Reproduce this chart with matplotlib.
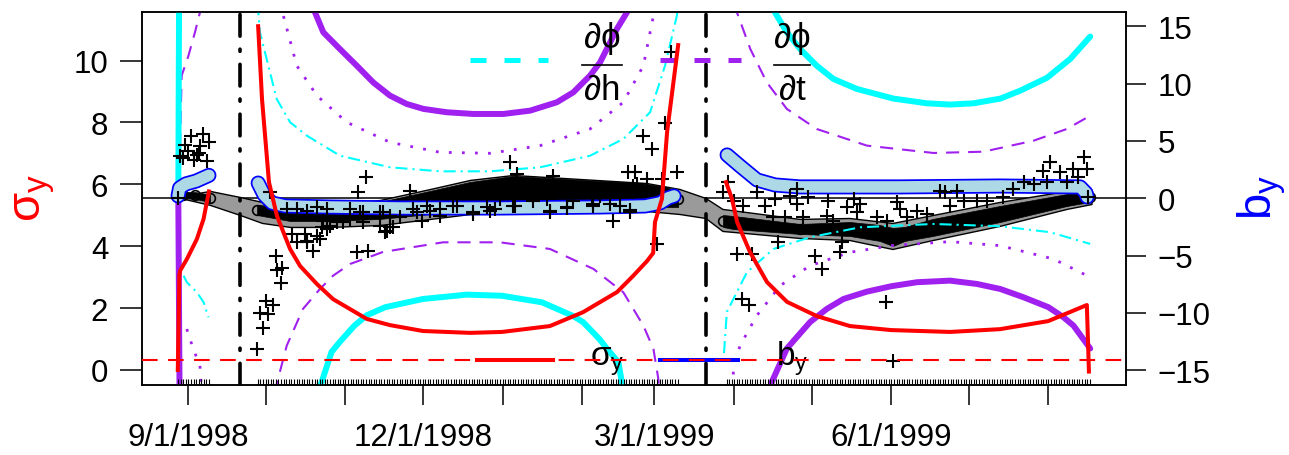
import numpy as np
import pandas as pd
import matplotlib
matplotlib.use("Agg")
import matplotlib.pyplot as plt
import matplotlib.dates as mdates
from matplotlib.lines import Line2D

plt.rcParams['font.family'] = ['Liberation Sans', 'DejaVu Sans']
plt.rcParams['mathtext.fontset'] = 'custom'
plt.rcParams['mathtext.rm'] = 'Liberation Sans'
plt.rcParams['mathtext.it'] = 'Liberation Sans'
plt.rcParams['mathtext.default'] = 'regular'

# ---------------------- data: x values are days since 1998-09-01 ----------------------
start_date = "1998-09-01"

# sigma_y (left axis), three observation periods
sig1_d = [-4.1, -3.5, -3.2, -0.6, 3.3, 5.9, 8.0]
sig1_v = [0.0, 3.05, 3.21, 3.58, 4.23, 4.88, 5.77]
sig2_d = [27.1, 28.6, 31.3, 34.4, 39.5, 43.4, 49.9, 56.2, 69.3, 78.3, 91.1, 109.4, 121.8,
          140.4, 153.3, 166.5, 172.7, 178.1, 180.5, 181.2, 183.9, 185.9, 190.2]
sig2_v = [11.11, 8.76, 6.07, 4.98, 3.91, 3.36, 2.78, 2.29, 1.65, 1.45, 1.26, 1.20, 1.23,
          1.42, 1.87, 2.52, 3.04, 3.52, 3.78, 4.78, 5.53, 7.69, 10.5]
sig3_d = [208.8, 211.1, 213.1, 218.1, 224.7, 232.5, 244.1, 256.9, 272.9, 295.8, 315.2,
          333.9, 348.9, 349.7]
sig3_v = [6.07, 5.53, 4.78, 3.81, 2.84, 2.20, 1.74, 1.42, 1.29, 1.23, 1.32, 1.58, 2.10, -0.05]
sig_ref = 0.32

# d(phi)/dh, thick cyan (right axis)
dh1_d = [-3.6, -3.9]
dh1_v = [17.5, 0.0]
dh2_d = [50.5, 51.8, 55.6, 58.9, 64.5, 69.3, 76.4, 91.1, 108.2, 121.8, 137.3, 149.2,
         153.3, 159.6, 162.5, 167.0, 168.3, 169.0]
dh2_v = [-16.8, -16.0, -13.4, -12.5, -11.1, -10.2, -9.5, -8.78, -8.4, -8.5, -9.07, -10.24,
         -10.8, -12.27, -13.1, -14.3, -16.0, -16.8]
dh3_d = [226.5, 227.8, 232.4, 237.6, 244.0, 250.5, 259.6, 273.8, 286.8, 295.8, 304.9,
         315.3, 323.0, 333.4, 342.4, 350.2]
dh3_v = [17.0, 16.2, 14.47, 13.0, 11.56, 10.4, 9.53, 8.69, 8.28, 8.17, 8.28, 8.69, 9.38,
         10.5, 12.14, 14.1]

# d(phi)/dt, thick purple (right axis)
dt1_d = [-3.9, -3.4]
dt1_v = [0.0, -17.5]
dt2_d = [48.0, 49.2, 52.4, 58.9, 65.4, 71.8, 78.3, 84.8, 91.3, 100.3, 110.7, 122.3, 132.7,
         143.1, 149.5, 156.0, 159.9, 163.8, 166.4, 170.3, 171.0]
dt2_v = [16.9, 16.2, 14.47, 13.0, 11.56, 10.1, 8.95, 8.22, 7.79, 7.50, 7.35, 7.35, 7.64,
         8.37, 9.24, 10.7, 11.86, 13.6, 14.76, 16.2, 16.9]
dt3_d = [225.5, 226.6, 232.4, 241.4, 247.9, 254.4, 263.5, 272.9, 282.9, 295.8, 306.2,
         315.3, 324.3, 334.0, 339.8, 343.7, 350.2]
dt3_v = [-17.0, -16.0, -13.1, -10.8, -9.65, -8.78, -8.14, -7.67, -7.32, -7.18, -7.47,
         -7.91, -8.63, -9.5, -10.37, -11.1, -13.1]

# thin purple dashed curves
pdash1_d = [4.9, 4.5, 2.6, 0.0, -2.6, -3.2, -3.3]
pdash1_v = [17.0, 16.2, 14.5, 12.4, 10.7, 5.0, 0.0]
pdash2_d = [33.6, 34.3, 38.2, 44.5, 51.1, 56.2, 62.8, 75.6, 98.9, 121.0, 140.4, 157.3,
            168.9, 176.7, 180.6, 182.5, 183.0]
pdash2_v = [-17.0, -16.2, -12.85, -9.65, -7.91, -6.75, -5.73, -4.68, -3.84, -3.84, -4.42,
            -6.16, -8.20, -11.11, -13.14, -15.75, -17.0]
pdash3_d = [212.5, 213.0, 218.2, 224.6, 232.4, 244.0, 263.5, 289.3, 308.7, 328.2, 341.1, 350.2]
pdash3_v = [17.0, 16.22, 13.02, 10.11, 7.79, 6.04, 4.59, 3.95, 4.06, 5.02, 6.04, 7.20]

# thin cyan dash-dot curves
cdd1_d = [-3.4, -3.2, -0.6, 3.3, 5.9, 7.8]
cdd1_v = [-0.5, -6.13, -7.32, -8.19, -9.06, -10.38]
cdd2_d = [26.8, 27.2, 27.8, 34.3, 39.5, 46.0, 58.9, 78.3, 97.7, 117.1, 136.6, 156.0,
          168.9, 179.3, 185.1, 189.7, 190.2]
cdd2_v = [17.0, 16.22, 14.47, 8.66, 6.63, 5.46, 3.71, 2.70, 2.35, 2.35, 2.70, 3.71,
          5.17, 7.50, 11.56, 15.92, 17.0]
cdd3_d = [208.0, 209.1, 216.9, 227.2, 241.4, 260.9, 289.3, 315.2, 334.6, 350.2]
cdd3_v = [-13.5, -9.91, -6.45, -4.42, -3.40, -2.53, -2.24, -2.44, -2.96, -3.98]

# thin purple dotted curves
pdot1_d = [-0.6, 1.9, 4.5, 5.2]
pdot1_v = [-11.4, -13.14, -14.6, -17.0]
pdot2_d = [35.9, 36.9, 42.1, 49.9, 61.5, 78.3, 97.7, 117.1, 136.6, 156.0, 168.9, 176.7,
           180.6, 181.0]
pdot2_v = [17.0, 15.92, 11.56, 8.95, 6.63, 4.88, 4.01, 3.92, 4.59, 6.04, 8.37, 11.56,
           15.92, 17.0]
pdot3_d = [211.3, 211.7, 214.2, 220.7, 229.8, 241.4, 256.9, 272.9, 295.8, 315.2, 335.9, 349.5]
pdot3_v = [-16.5, -14.88, -12.85, -10.24, -7.62, -5.88, -4.71, -4.13, -3.78, -4.13, -5.29, -6.80]

# grey uncertainty band (right axis)
band_d = [-3.2, 8.4, 20.1, 28.6, 39.5, 55.0, 74.4, 93.9, 109.4, 126.1, 152.1, 177.9,
          190.7, 200.8, 207.4, 237.3, 256.7, 273.4, 289.0, 315.0, 341.0, 350.7]
band_hi = [0.20, 0.64, 0.11, -0.32, -0.58, -0.50, -0.15, 0.81, 1.60, 2.03, 1.68, 1.33,
           0.81, 0.03, -0.93, -1.80, -1.72, -2.15, -1.46, -0.32, 0.64, 0.55]
band_lo = [0.03, -0.58, -1.46, -2.15, -2.50, -2.50, -2.33, -1.80, -1.37, -1.19, -1.02,
           -1.11, -1.37, -1.72, -2.85, -3.46, -3.64, -4.42, -3.64, -2.41, -0.93, -0.50]

# spread of the circle estimates for each period
circ1_d = [-2.1, 2.6, 8.4]
circ1_hi = [0.55, 0.55, 0.29]
circ1_lo = [0.03, -0.06, -0.32]
circ2_d = [26.7, 39.5, 55.0, 74.4, 93.9, 109.4, 126.1, 152.1, 175.4, 185.1, 190.2]
circ2_hi = [-0.58, -0.76, -0.67, -0.32, 0.64, 1.42, 1.94, 1.60, 1.33, 0.99, 0.64]
circ2_lo = [-1.46, -1.98, -1.98, -1.80, -1.37, -1.11, -0.93, -0.76, -0.76, -0.76, -0.76]
circ3_d = [207.6, 211.5, 237.5, 256.9, 268.5, 273.6, 278.2, 289.1, 315.2, 341.2, 350.2]
circ3_hi = [-1.46, -1.54, -2.24, -2.07, -2.33, -2.59, -2.50, -1.80, -0.67, 0.37, 0.46]
circ3_lo = [-2.50, -2.68, -3.11, -3.29, -3.72, -4.16, -3.72, -3.29, -2.07, -0.67, -0.32]

# b_y estimate (light blue track)
by1_d = [-4.0, -3.4, -1.0, 3.0, 8.0]
by1_v = [0.2, 0.9, 1.25, 1.5, 2.0]
by2_d = [27.1, 29.4, 32.5, 37.6, 55.0, 82.2, 121.0, 159.9, 177.4, 183.2, 186.3, 188.6]
by2_v = [1.33, 0.29, -0.41, -0.67, -0.76, -0.85, -0.85, -0.76, -0.67, -0.41, 0.03, 0.20]
by3_d = [209.2, 214.2, 220.8, 227.8, 237.5, 276.3, 315.2, 346.3, 348.6, 349.0]
by3_v = [3.78, 2.82, 1.60, 1.16, 0.99, 0.99, 1.07, 0.99, 0.46, 0.11]

# observed points (+)
obs_d = [1.2, 5.8, 8.2, -1.3, 4.5, 0.0, 4.3, -3.2, 2.2, 7.1, -2.2, 3.3, -3.9,
         26.8, 28.9, 28.0, 30.9, 30.1, 33.0, 34.6, 36.3, 36.0, 33.9, 31.7,
         40.2, 42.1, 45.3, 46.0, 48.3, 49.9, 51.8, 52.4, 55.0, 57.6, 60.2, 62.8,
         65.4, 69.9, 69.0, 66.0, 68.0, 74.4, 76.4, 78.3, 38.2, 42.1, 46.0, 49.9,
         53.7, 62.8, 68.0, 75.7, 86.1, 124.9, 127.5, 141.7, 170.9, 173.5, 180.0,
         189.7, 183.8, 178.0, 174.1, 165.0, 171.5, 181.9, 140.5, 147.0, 126.9,
         110.7, 117.2, 119.1, 97.7, 90.6, 82.2, 79.6, 77.0, 87.4, 93.9, 104.2,
         149.5, 157.3, 163.8, 156.7, 134.0, 176.7, 185.0, 187.3, 172.8,
         126.1, 140.5, 147.0, 157.3, 167.7, 171.6, 110.7, 115.9, 88.7, 97.7,
         102.9, 92.6, 74.4, 78.3, 66.7, 128.8, 134.0, 139.2, 121.0, 159.9, 172.8,
         46.0, 51.1, 53.7,
         209.7, 207.8, 211.7, 215.5, 220.7, 224.0, 227.8, 233.7, 236.3, 236.3,
         240.8, 248.5, 255.7, 258.3, 260.9, 259.6, 275.1, 276.4, 291.9, 293.9,
         298.4, 301.0, 306.2, 310.1, 316.5, 320.4, 324.3, 328.2, 332.0, 334.6,
         333.4, 338.5, 341.1, 343.7, 345.6, 347.6, 348.9, 349.5,
         213.0, 218.8, 229.1, 243.4, 246.0, 253.1, 253.7, 214.9, 217.9, 270.8,
         273.8, 227.2, 231.7, 238.8, 247.9, 250.5, 267.3, 271.2, 279.0, 282.9,
         286.8, 295.8]
obs_v = [5.43, 5.61, 4.93, 4.65, 4.52, 4.15, 3.95, 3.71, 3.34, 3.21, 3.49, 3.77, 0.0,
         -13.14, -11.31, -10.0, -10.09, -8.95, -9.30, -6.25, -6.10, -7.38, -5.03, 0.58,
         -3.11, -3.84, -3.11, -3.84, -4.57, -3.26, -2.53, -1.95, -2.39, -2.09, -2.09, -1.80,
         -4.71, -4.57, 1.88, 0.58, -2.09, -2.39, -2.96, -2.53, -0.93, -0.93, -1.08, -0.78,
         -0.93, -0.93, -1.22, -1.22, 0.66, 3.14, 2.12, 1.97, 2.27, 2.27, 4.30,
         2.27, 1.68, 1.68, 1.25, -1.95, -1.17, -3.98, -1.08, -0.78, -0.65,
         -1.37, -1.08, -0.93, -1.52, -1.95, -1.66, -2.53, -2.82, -0.93, -1.08, -0.65,
         -0.21, -0.50, -0.50, 0.09, -0.21, 5.46, 6.56, 12.78, 1.10,
         -0.65, -1.19, -0.85, -0.65, -0.65, -0.99, -1.22, -0.78, -1.22, -0.93,
         -0.65, -0.65, -1.22, -1.52, -1.22, 0.52, 0.23, -0.06, -0.06, 0.23, 0.52,
         -3.70, -3.55, -2.68,
         1.39, 0.52, -0.21, -0.65, 0.52, -0.65, -0.06, 0.23, 0.81, -0.50,
         0.09, -0.21, -0.78, -0.06, -0.50, -1.22, -0.35, -0.93, 0.66, 0.52,
         0.66, -0.21, -0.21, -0.21, 0.09, 0.81, 1.39, 1.25, 2.41, 3.14,
         1.39, 2.27, 1.39, 2.55, 1.83, 3.57, 2.55, 0.09,
         -4.86, -4.86, -3.84, -5.00, -6.16, -4.71, -3.84, -8.78, -9.30, -9.07,
         -14.21, -1.66, -1.66, -1.66, -1.52, -1.95, -1.66, -1.95, -1.66, -1.08,
         -1.37, -0.65]

# days with observations (rug) and equinox markers
rug_days = np.concatenate([np.arange(-4, 9), np.arange(27, 191), np.arange(209, 351)])
equinox_d = [20, 201]

month_ticks = pd.date_range("1998-09-01", "1999-08-01", freq="MS")
month_labels = ["9/1/1998", "", "", "12/1/1998", "", "", "3/1/1999", "", "", "6/1/1999", "", ""]

# ---------------------- plot ----------------------
base = mdates.date2num(pd.Timestamp(start_date))


def dd(days):
    return base + np.asarray(days, dtype=float)


CYAN, PURPLE = "#00FFFF", "#A020F0"

fig = plt.figure(figsize=(12.89, 4.56), dpi=100)
ax = fig.add_axes([142 / 1289, 70 / 456, 984 / 1289, 373 / 456])
ax2 = ax.twinx()
ax.set_zorder(ax2.get_zorder() + 1)
ax.patch.set_visible(False)

ax.set_xlim(dd(-18.0), dd(364.1))
ax.set_ylim(-0.485, 11.57)
ax2.set_ylim(-16.28, 16.24)

# zero line of b_y
ax2.axhline(0, color="black", lw=1.1, zorder=1)

# grey band and circle estimates
ax2.fill_between(dd(band_d), band_lo, band_hi, facecolor="#9a9a9a", edgecolor="black",
                 lw=1.0, zorder=2)
for cd, chi, clo in [(circ1_d, circ1_hi, circ1_lo), (circ2_d, circ2_hi, circ2_lo),
                     (circ3_d, circ3_hi, circ3_lo)]:
    ax2.fill_between(dd(cd), clo, chi, color="black", lw=0.5, zorder=3)
    mid = (np.array(chi) + np.array(clo)) / 2
    ax2.plot(dd(cd), mid, "o", mfc="none", mec="black", ms=7, mew=1.2, zorder=3)

# thin reference curves
for xs, ys in [(pdash1_d, pdash1_v), (pdash2_d, pdash2_v), (pdash3_d, pdash3_v)]:
    ax2.plot(dd(xs), ys, color=PURPLE, lw=1.5, dashes=(6.3, 4.3), zorder=4)
for xs, ys in [(cdd1_d, cdd1_v), (cdd2_d, cdd2_v), (cdd3_d, cdd3_v)]:
    ax2.plot(dd(xs), ys, color=CYAN, lw=1.5, dashes=(5.8, 2.4, 1.0, 2.4), zorder=4)
for xs, ys in [(pdot1_d, pdot1_v), (pdot2_d, pdot2_v), (pdot3_d, pdot3_v)]:
    ax2.plot(dd(xs), ys, color=PURPLE, lw=2.0, dashes=(1.0, 3.7), zorder=4)

# thick derivative curves
for xs, ys in [(dh1_d, dh1_v), (dh2_d, dh2_v), (dh3_d, dh3_v)]:
    ax2.plot(dd(xs), ys, color=CYAN, lw=4.3, solid_capstyle="round",
             solid_joinstyle="round", zorder=5)
for xs, ys in [(dt1_d, dt1_v), (dt2_d, dt2_v), (dt3_d, dt3_v)]:
    ax2.plot(dd(xs), ys, color=PURPLE, lw=4.3, solid_capstyle="round",
             solid_joinstyle="round", zorder=5)

# b_y track, blue outline with light blue core
for xs, ys in [(by1_d, by1_v), (by2_d, by2_v), (by3_d, by3_v)]:
    ax2.plot(dd(xs), ys, color="blue", lw=10.8, solid_capstyle="round",
             solid_joinstyle="round", zorder=6)
    ax2.plot(dd(xs), ys, color="#ADD8E6", lw=8.3, solid_capstyle="round",
             solid_joinstyle="round", zorder=6)

ax2.plot(dd(obs_d), obs_v, "+", color="black", ms=9.4, mew=1.5, zorder=7)

for d in equinox_d:
    ax2.axvline(dd(d), color="black", lw=2.6, dashes=(6.0, 3.6, 0.6, 3.6),
                dash_capstyle="round", zorder=8)

# sigma_y on the left axis
for xs, ys in [(sig1_d, sig1_v), (sig2_d, sig2_v), (sig3_d, sig3_v)]:
    ax.plot(dd(xs), ys, color="red", lw=2.9, solid_joinstyle="round", zorder=5)
ax.axhline(sig_ref, color="red", lw=1.5, dashes=(7.5, 5), zorder=6)

ax.vlines(dd(rug_days), 0, 0.016, transform=ax.get_xaxis_transform(), color="black", lw=0.8)

# axes
ax.set_yticks([0, 2, 4, 6, 8, 10])
ax2.set_yticks([-15, -10, -5, 0, 5, 10, 15])
ax.set_xticks(mdates.date2num(month_ticks))
ax.set_xticklabels(month_labels)
ax.tick_params(axis="y", length=15.8, width=1.1, pad=8.5, labelsize=22.5)
ax.tick_params(axis="x", length=14.4, width=1.1, pad=12, labelsize=22.5)
ax2.tick_params(axis="y", length=14.4, width=1.1, pad=8.5, labelsize=22.5)
for a in (ax, ax2):
    for s in a.spines.values():
        s.set_linewidth(1.1)

fig.text(35 / 1289, 1 - 198 / 456, r"$\sigma_y$", color="red", fontsize=34,
         rotation=90, ha="center", va="center")
fig.text(1262 / 1289, 1 - 197 / 456, r"$b_y$", color="blue", fontsize=34,
         rotation=90, ha="center", va="center")

# legends
def axfrac(px, py):
    return (px - 142) / 984, (386 - py) / 373


def leg_line(x0, x1, y, **kw):
    (a0, b0), (a1, _) = axfrac(x0, y), axfrac(x1, y)
    ax2.add_line(Line2D([a0, a1], [b0, b0], transform=ax2.transAxes, clip_on=False, **kw))


leg_line(470, 548, 61, color=CYAN, lw=3.6, dashes=(3.2, 3.6), zorder=9)
leg_line(660, 741, 61, color=PURPLE, lw=3.6, dashes=(3.2, 3.6), zorder=9)
for cx, half, den in [(602, 20, "\u2202h"), (792, 18, "\u2202t")]:
    x, y = axfrac(cx, 39)
    ax2.text(x, y, "\u2202\u03d5", transform=ax2.transAxes, fontsize=25,
             ha="center", va="center", zorder=9)
    x, y = axfrac(cx, 90)
    ax2.text(x, y, den, transform=ax2.transAxes, fontsize=25,
             ha="center", va="center", zorder=9)
    leg_line(cx - half, cx + half, 66, color="black", lw=1.2, zorder=9)

leg_line(477, 553, 361, color="red", lw=2.9, zorder=9)
leg_line(660, 738, 361, color="blue", lw=2.9, zorder=9)
x, y = axfrac(590, 366)
ax2.text(x, y, r"$\sigma_y$", transform=ax2.transAxes, fontsize=24, va="baseline", zorder=9)
x, y = axfrac(776, 366)
ax2.text(x, y, r"$b_y$", transform=ax2.transAxes, fontsize=24, va="baseline", zorder=9)

fig.savefig("out.png", dpi=100)
